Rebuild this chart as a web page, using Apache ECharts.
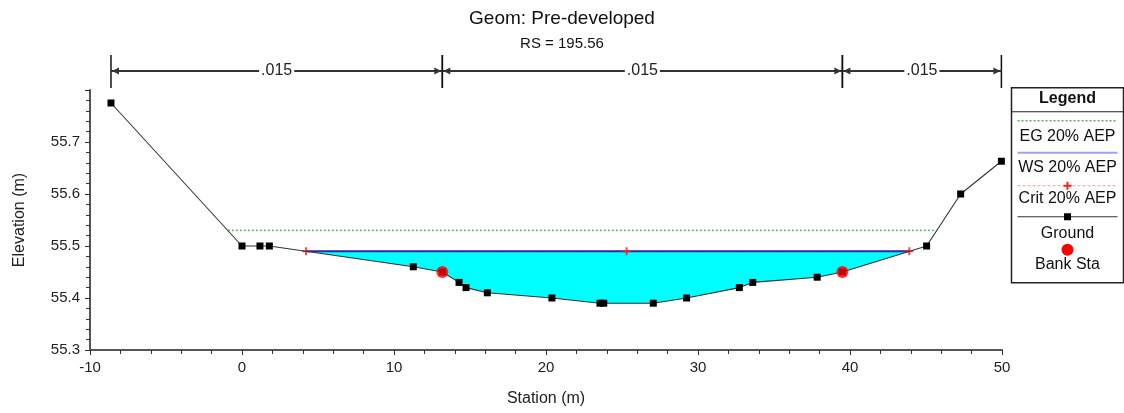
<!DOCTYPE html>
<html>
<head>
<meta charset="utf-8">
<script src="https://cdn.jsdelivr.net/npm/echarts@6/dist/echarts.min.js"></script>
<style>
  html, body { margin: 0; padding: 0; background: #fff; }
  #chart { width: 1124px; height: 413px; }
</style>
</head>
<body>
<div id="chart"></div>
<script>
// Cross-section ground survey (station m, elevation m)
const groundStations = [-8.62, 0, 1.18, 1.80, 11.27, 13.18, 14.28, 14.74, 16.14, 20.39, 23.55, 23.80, 27.06, 29.25, 32.72, 33.60, 37.84, 39.50, 45.04, 47.28, 49.96];
const groundElev     = [55.775, 55.50, 55.50, 55.50, 55.46, 55.45, 55.43, 55.42, 55.41, 55.40, 55.39, 55.39, 55.39, 55.40, 55.42, 55.43, 55.44, 55.45, 55.50, 55.60, 55.663];

// Bank stations
const bankStations = [13.18, 39.50];
const bankElev     = [55.45, 55.45];

// Energy grade line (20% AEP)
const egStations = [-0.93, 45.71];
const egElev     = 55.53;

// Water surface (20% AEP)
const wsStations = [4.21, 43.90];
const wsElev     = 55.49;

// Critical depth points (20% AEP)
const critStations = [4.21, 25.30, 43.90];
const critElev     = 55.49;

// Manning's n regions
const nBreaks = [-8.62, 13.18, 39.50, 49.96];
const nValues = ['.015', '.015', '.015'];

// Axis ranges / ticks
const xMin = -10, xMax = 50, xStep = 10;
const yMin = 55.3, yMax = 55.8, yStep = 0.1;

const FONT = 'Liberation Sans, Arial, sans-serif';

const pairs = (xs, ys) => xs.map((x, i) => [x, Array.isArray(ys) ? ys[i] : ys]);

// Wetted area polygon: water surface edges plus the ground points between them
const wetPolygon = [[wsStations[0], wsElev]]
  .concat(pairs(groundStations, groundElev).filter(p => p[0] > wsStations[0] && p[0] < wsStations[1]))
  .concat([[wsStations[1], wsElev]]);

const nSegments = nValues.map((v, i) => [nBreaks[i], nBreaks[i + 1], v]);

const chart = echarts.init(document.getElementById('chart'), null, { renderer: 'canvas' });

const crossPath = 'path://M3,0H5V3H8V5H5V8H3V5H0V3H3Z';

function crossPoints(cx, cy) {
  return [[cx - 1, cy - 4], [cx + 1, cy - 4], [cx + 1, cy - 1], [cx + 4, cy - 1], [cx + 4, cy + 1], [cx + 1, cy + 1],
          [cx + 1, cy + 4], [cx - 1, cy + 4], [cx - 1, cy + 1], [cx - 4, cy + 1], [cx - 4, cy - 1], [cx - 1, cy - 1]];
}

function arrowHead(x, y, dir, color) {
  // dir = -1 points left, +1 points right
  return {
    type: 'polygon',
    shape: { points: [[x, y], [x - dir * 7, y - 3.5], [x - dir * 7, y + 3.5]] },
    style: { fill: color }
  };
}

const legendText = (txt, y, bold) => ({
  type: 'text', x: 56, y: y,
  style: { text: txt, fontFamily: FONT, fontSize: 16, fontWeight: bold ? 'bold' : 'normal', fill: '#111', align: 'center', verticalAlign: 'middle' }
});

const option = {
  animation: false,
  backgroundColor: '#fff',
  title: {
    text: 'Geom: Pre-developed',
    subtext: 'RS = 195.56',
    left: 'center',
    top: 4,
    itemGap: 8,
    textStyle: { fontFamily: FONT, fontSize: 19, fontWeight: 'normal', color: '#111' },
    subtextStyle: { fontFamily: FONT, fontSize: 15, color: '#111' }
  },
  grid: { left: 90, right: 122, top: 90, bottom: 63, containLabel: false },
  xAxis: {
    type: 'value',
    min: xMin, max: xMax, interval: xStep,
    name: 'Station (m)',
    nameLocation: 'middle',
    nameGap: 41,
    nameTextStyle: { fontFamily: FONT, fontSize: 16, color: '#222' },
    axisLine: { show: true, onZero: false, lineStyle: { color: '#555', width: 2 } },
    axisTick: { show: true, length: 5, lineStyle: { color: '#333', width: 1 } },
    minorTick: { show: true, splitNumber: 5, length: 4, lineStyle: { color: '#333', width: 1 } },
    splitLine: { show: false },
    axisLabel: { fontFamily: FONT, fontSize: 15, color: '#222', margin: 10 }
  },
  yAxis: {
    type: 'value',
    min: yMin, max: yMax, interval: yStep,
    name: 'Elevation (m)',
    nameLocation: 'middle',
    nameGap: 62,
    nameRotate: 90,
    nameTextStyle: { fontFamily: FONT, fontSize: 16, color: '#222' },
    axisLine: { show: true, onZero: false, lineStyle: { color: '#555', width: 2 } },
    axisTick: { show: true, length: 5, lineStyle: { color: '#333', width: 1 } },
    minorTick: { show: true, splitNumber: 5, length: 4, lineStyle: { color: '#333', width: 1 } },
    splitLine: { show: false },
    axisLabel: {
      fontFamily: FONT, fontSize: 15, color: '#222', margin: 10,
      showMaxLabel: false,
      formatter: v => v.toFixed(1)
    }
  },
  series: [
    {
      name: 'WS area',
      type: 'custom',
      z: 1,
      data: [0],
      renderItem: function (params, api) {
        const pts = wetPolygon.map(p => api.coord(p));
        return { type: 'polygon', shape: { points: pts }, style: { fill: '#00ffff' } };
      },
      silent: true
    },
    {
      name: 'EG 20% AEP',
      type: 'line',
      z: 2,
      data: pairs(egStations, egElev),
      symbol: 'none',
      lineStyle: { color: '#55b855', width: 1.5, type: [2, 2] }
    },
    {
      name: 'Crit 20% AEP',
      type: 'line',
      z: 3,
      data: pairs(critStations, critElev),
      symbol: 'none',
      lineStyle: { color: '#ff8080', width: 1, type: [3, 2] }
    },
    {
      name: 'WS 20% AEP',
      type: 'line',
      z: 4,
      data: pairs(wsStations, wsElev),
      symbol: 'none',
      lineStyle: { color: '#2a2aa6', width: 2 }
    },
    {
      name: 'Crit markers',
      type: 'scatter',
      z: 5,
      data: pairs(critStations, critElev),
      symbol: crossPath,
      symbolSize: 8,
      itemStyle: { color: '#ff2020' }
    },
    {
      name: 'Ground',
      type: 'line',
      z: 6,
      data: pairs(groundStations, groundElev),
      symbol: 'rect',
      symbolSize: 7,
      itemStyle: { color: '#000' },
      lineStyle: { color: '#333', width: 1.1 }
    },
    {
      name: 'Bank Sta',
      type: 'scatter',
      z: 7,
      data: pairs(bankStations, bankElev),
      symbol: 'circle',
      symbolSize: 12,
      itemStyle: { color: '#ff0000' }
    },
    {
      // Manning's n dimension arrows above the plot
      name: 'n values',
      type: 'custom',
      z: 8,
      clip: false,
      silent: true,
      data: nSegments.map((s, i) => [s[0], s[1], i]),
      renderItem: function (params, api) {
        const seg = nSegments[params.dataIndex];
        const p1 = api.coord([seg[0], yMax]);
        const p2 = api.coord([seg[1], yMax]);
        const top = p1[1];
        const x1 = p1[0];
        const x2 = p2[0];
        const y = top - 19;
        const col = '#333';
        return {
          type: 'group',
          children: [
            { type: 'line', shape: { x1: x1, y1: top - 35, x2: x1, y2: top - 2 }, style: { stroke: '#111', lineWidth: 1.5 } },
            { type: 'line', shape: { x1: x2, y1: top - 35, x2: x2, y2: top - 2 }, style: { stroke: '#111', lineWidth: 1.5 } },
            { type: 'line', shape: { x1: x1, y1: y, x2: x2, y2: y }, style: { stroke: col, lineWidth: 2 } },
            arrowHead(x1 + 1, y, -1, col),
            arrowHead(x2 - 1, y, 1, col),
            {
              type: 'text',
              x: (x1 + x2) / 2, y: y,
              style: {
                text: seg[2], fontFamily: FONT, fontSize: 16, fill: '#222',
                align: 'center', verticalAlign: 'middle',
                backgroundColor: '#fff', padding: [0, 2]
              }
            }
          ]
        };
      }
    }
  ],
  graphic: [
    {
      type: 'group',
      left: 1009, top: 87,
      children: [
        { type: 'rect', shape: { x: 0, y: 0, width: 112, height: 195 }, style: { fill: '#fff', stroke: '#222', lineWidth: 1.5 } },
        { type: 'line', shape: { x1: 0, y1: 24, x2: 112, y2: 24 }, style: { stroke: '#222', lineWidth: 1 } },
        legendText('Legend', 11, true),
        // EG
        { type: 'line', shape: { x1: 6, y1: 33, x2: 106, y2: 33 }, style: { stroke: '#55b855', lineWidth: 1.5, lineDash: [2, 2] } },
        legendText('EG 20% AEP', 49),
        // WS
        { type: 'line', shape: { x1: 6, y1: 65, x2: 106, y2: 65 }, style: { stroke: '#9ea3f2', lineWidth: 2 } },
        legendText('WS 20% AEP', 80),
        // Crit
        { type: 'line', shape: { x1: 6, y1: 98, x2: 106, y2: 98 }, style: { stroke: '#ff9a9a', lineWidth: 1, lineDash: [3, 2] } },
        { type: 'polygon', shape: { points: crossPoints(56, 98) }, style: { fill: '#ff2020' } },
        legendText('Crit 20% AEP', 111),
        // Ground
        { type: 'line', shape: { x1: 6, y1: 129, x2: 106, y2: 129 }, style: { stroke: '#333', lineWidth: 1.1 } },
        { type: 'rect', shape: { x: 52.5, y: 125.5, width: 7, height: 7 }, style: { fill: '#000' } },
        legendText('Ground', 146),
        // Bank Sta
        { type: 'circle', shape: { cx: 56, cy: 162, r: 6 }, style: { fill: '#ff0000' } },
        legendText('Bank Sta', 177)
      ]
    }
  ]
};

chart.setOption(option);
</script>
</body>
</html>
